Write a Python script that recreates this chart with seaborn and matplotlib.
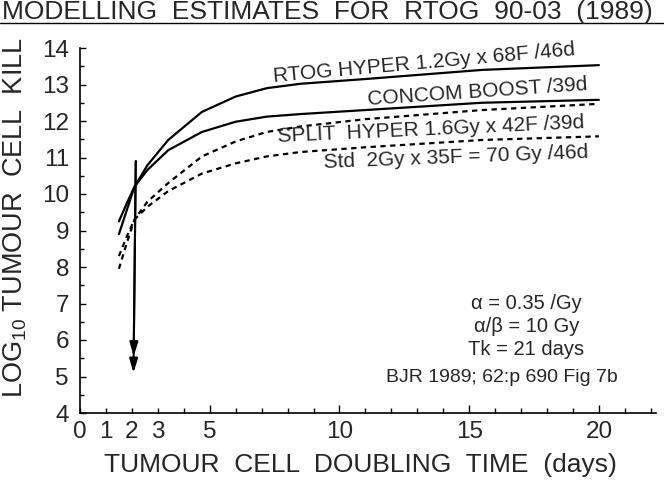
import matplotlib
matplotlib.use("Agg")
import matplotlib.pyplot as plt
from matplotlib.lines import Line2D
import seaborn as sns
import pandas as pd

# ---- data ----
doubling_time = [1.5, 1.8, 2.1, 2.6, 3.4, 4.7, 6.0, 7.2, 8.5, 11, 15.5, 20]
rtog_hyper   = [8.9, 9.55, 10.2, 10.79, 11.48, 12.25, 12.67, 12.9, 13.02, 13.15, 13.4, 13.53]
concom_boost = [9.25, 9.74, 10.2, 10.66, 11.2, 11.7, 11.98, 12.12, 12.19, 12.3, 12.5, 12.58]
split_hyper  = [7.95, 8.65, 9.3, 9.79, 10.3, 11.03, 11.44, 11.7, 11.85, 12.05, 12.3, 12.47]
std_frac     = [8.3, 8.83, 9.3, 9.65, 10.08, 10.56, 10.84, 11.03, 11.15, 11.28, 11.48, 11.58]

x_ticks = [0, 1, 2, 3, 5, 10, 15, 20]
x_tick_labels = ["0", "1", "2", "3", "5", "10", "15", "20"]
y_ticks = [4, 5, 6, 7, 8, 9, 10, 11, 12, 13, 14]

curve_labels = ["RTOG HYPER 1.2Gy x 68F /46d", "CONCOM BOOST /39d",
                "SPLIT  HYPER 1.6Gy x 42F /39d", "Std  2Gy x 35F = 70 Gy /46d"]
title = "MODELLING  ESTIMATES  FOR  RTOG  90-03  (1989)"
params = ["\u03b1 = 0.35 /Gy", "\u03b1/\u03b2 = 10 Gy", "Tk = 21 days"]
reference = "BJR 1989; 62:p 690 Fig 7b"
arrow_top = (2.15, 10.9)
arrow_ends = [(2.07, 5.55), (2.06, 5.1)]

# ---- style ----
sns.set_style("ticks")
plt.rcParams["font.family"] = ["Liberation Sans", "DejaVu Sans"]
plt.rcParams["mathtext.fontset"] = "custom"
plt.rcParams["mathtext.rm"] = "Liberation Sans"
plt.rcParams["mathtext.it"] = "Liberation Sans:italic"

fig = plt.figure(figsize=(6.64, 4.83), dpi=100)
ax = fig.add_axes([80 / 664, 70 / 483, 576 / 664, 365 / 483])

df = pd.DataFrame({"x": doubling_time, "rtog": rtog_hyper, "concom": concom_boost,
                   "split": split_hyper, "std": std_frac})
lw = 1.6
sns.lineplot(data=df, x="x", y="rtog", ax=ax, color="black", lw=lw)
sns.lineplot(data=df, x="x", y="concom", ax=ax, color="black", lw=lw)
sns.lineplot(data=df, x="x", y="split", ax=ax, color="black", lw=lw)
ax.lines[-1].set_dashes((2.4, 2.0))
sns.lineplot(data=df, x="x", y="std", ax=ax, color="black", lw=lw)
ax.lines[-1].set_dashes((2.4, 2.0))

ax.set_xlim(0, 22.2)
ax.set_ylim(4, 14)
sns.despine(ax=ax)
for s in ["left", "bottom"]:
    ax.spines[s].set_linewidth(1.2)
    ax.spines[s].set_color("black")

ax.set_xticks(x_ticks)
ax.set_xticklabels(x_tick_labels)
ax.set_xticks(range(0, 23), minor=True)
ax.set_yticks(y_ticks)
ax.set_yticks([v + 0.5 for v in range(4, 14)], minor=True)
ax.tick_params(axis="both", which="both", direction="in", color="black", width=1.0)
ax.tick_params(axis="x", which="major", length=6, labelsize=17.5, pad=6)
ax.tick_params(axis="x", which="minor", length=3.5)
ax.tick_params(axis="y", which="major", length=4, labelsize=17.5, pad=8)
ax.tick_params(axis="y", which="minor", length=3)
for i, t in enumerate(ax.xaxis.get_major_ticks()):
    if x_ticks[i] in (0, 1, 2, 3):
        t.tick1line.set_markersize(3.5)

ax.set_xlabel("TUMOUR  CELL  DOUBLING  TIME  (days)", fontsize=19)
ax.xaxis.set_label_coords(0.487, -0.11)
ax.set_ylabel("LOG$_{\\mathrm{10}}$ TUMOUR  CELL  KILL", fontsize=19.5)
ax.yaxis.set_label_coords(-0.088, 0.536)

# curve labels (left baseline anchored)
label_pos = [(7.48, 13.07, 5.1), (11.1, 12.44, 3.9), (7.63, 11.42, 2.6), (9.4, 10.71, 2.2)]
for (lx, ly, rot), txt in zip(label_pos, curve_labels):
    ax.text(lx, ly, txt, fontsize=15, ha="left", va="baseline", rotation=rot,
            rotation_mode="anchor")

for yy, txt in zip([6.99, 6.36, 5.73], params):
    ax.text(17.2, yy, txt, fontsize=14.5, ha="center", va="center")
ax.text(16.26, 4.97, reference, fontsize=14, ha="center", va="center")

for end in arrow_ends:
    ax.annotate("", xy=end, xytext=arrow_top,
                arrowprops=dict(arrowstyle="-|>,head_length=0.6,head_width=0.18",
                                mutation_scale=14, lw=1.5, color="black",
                                shrinkA=0, shrinkB=0))

fig.text(0.003, 1 - 12 / 483, title, fontsize=19, ha="left", va="center")
fig.add_artist(Line2D([0, 1], [1 - 23 / 483, 1 - 23 / 483], color="black", lw=1.0,
                      transform=fig.transFigure))

fig.savefig("out.png", dpi=100)
